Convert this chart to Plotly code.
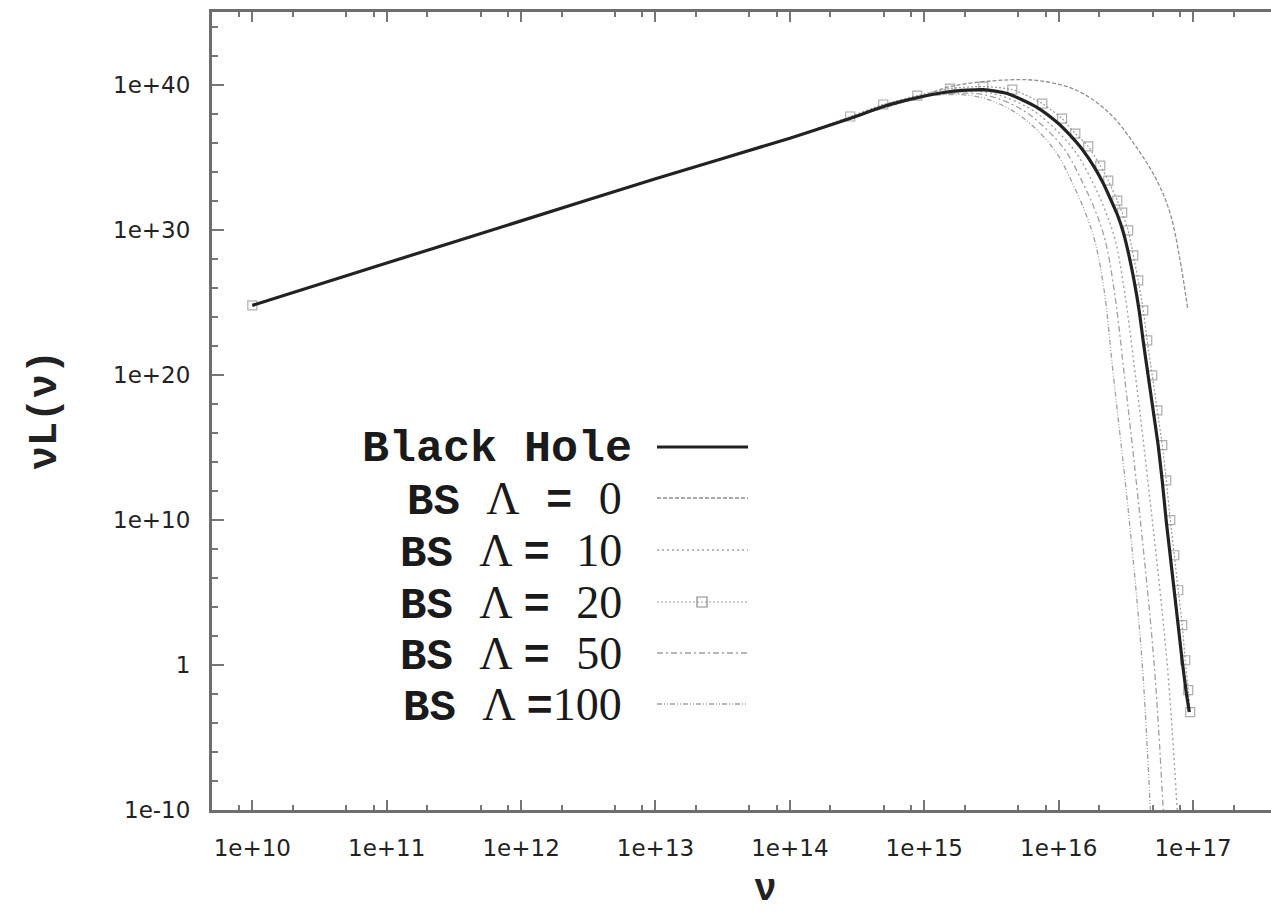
import plotly.graph_objects as go

# ---- spectra: nu [Hz] and nu*L(nu) ----
nu_bh = [1e10, 1e11, 1e12, 1e13, 1e14, 2.8e14, 4.95e14, 8.9e14, 1.56e15, 2.75e15, 4.15e15, 6.93e15,
         9.77e15, 1.22e16, 1.52e16, 1.87e16, 2.15e16, 2.42e16, 2.73e16, 3.03e16, 3.35e16, 3.65e16,
         3.98e16, 4.26e16, 4.64e16, 5.06e16, 5.51e16, 5.90e16, 6.32e16, 6.77e16, 7.25e16, 7.76e16,
         8.31e16, 8.9e16, 9.38e16]
nuL_bh = [6.0e24, 5.0e27, 4.0e30, 3.2e33, 2.0e36, 4.6e37, 3.05e38, 1.26e39, 3.3e39, 4.5e39, 2.4e39, 2.6e38,
          2.4e37, 3.1e36, 2.85e35, 1.6e34, 1.5e33, 1.4e32, 1.1e31, 6.4e29, 1.4e28, 2.7e26,
          2.3e24, 2.0e22, 7.8e19, 3.0e17, 1.2e15, 4.6e12, 8.0e9, 3.1e7, 1.2e5, 470.0,
          1.8, 0.013, 5.6e-4]

nu_bs0 = [1e10, 1e11, 1e12, 1e13, 1e14, 2.8e14, 8.9e14, 1.56e15, 3.49e15, 6.93e15, 1.37e16,
          2.4e16, 3.8e16, 5.37e16, 6.76e16, 7.94e16, 9.12e16]
nuL_bs0 = [6.0e24, 5.0e27, 4.0e30, 3.2e33, 2.0e36, 4.6e37, 1.26e39, 7.2e39, 1.9e40, 1.9e40, 3.9e39,
           1.0e38, 4.6e35, 2.5e33, 1.3e31, 1.2e28, 3.7e24]

nu_bs10 = [1e10, 1e11, 1e12, 1e13, 1e14, 2.8e14, 8.9e14, 1.56e15, 2.61e15, 3.67e15, 5.94e15, 8.37e15,
           1.31e16, 1.81e16, 2.22e16, 2.64e16, 3.08e16, 3.72e16, 4.97e16, 6.43e16, 7.62e16]
nuL_bs10 = [6.0e24, 5.0e27, 4.0e30, 3.2e33, 2.0e36, 4.6e37, 1.26e39, 2.8e39, 3.3e39, 1.75e39, 2.6e38, 2.4e37,
            2.85e35, 1.5e33, 2.1e31, 1.8e29, 6.5e25, 1e20, 1e10, 1.0, 1e-10]

nu_bs20 = [1e10, 1e11, 1e12, 1e13, 1e14, 2.81e14, 4.95e14, 8.87e14, 1.56e15, 2.75e15, 4.52e15, 7.55e15,
           1.06e16, 1.33e16, 1.66e16, 2.04e16, 2.34e16, 2.73e16, 2.97e16, 3.29e16, 3.59e16, 3.91e16,
           4.26e16, 4.56e16, 4.97e16, 5.42e16, 5.90e16, 6.32e16, 6.77e16, 7.25e16, 7.76e16, 8.31e16,
           8.75e16, 9.21e16, 9.53e16]
nuL_bs20 = [6.0e24, 5.0e27, 4.0e30, 3.2e33, 2.0e36, 6.3e37, 4.2e38, 1.75e39, 5.3e39, 7.3e39, 4.5e39, 4.9e38,
            4.5e37, 4.2e36, 5.4e35, 2.6e34, 2.4e33, 1.0e32, 1.5e31, 8.8e29, 1.7e28, 3.2e26,
            2.7e24, 2.3e22, 9.1e19, 3.5e17, 1.4e15, 5.3e12, 9.4e9, 3.6e7, 1.4e5, 551.0,
            2.1, 0.018, 5.6e-4]

nu_bs50 = [1e10, 1e11, 1e12, 1e13, 1e14, 2.8e14, 8.9e14, 1.56e15, 2.39e15, 3.37e15, 5.18e15, 7.29e15,
           1.12e16, 1.52e16, 1.87e16, 2.22e16, 2.59e16, 3.08e16, 4.05e16, 5.14e16, 6.0e16]
nuL_bs50 = [6.0e24, 5.0e27, 4.0e30, 3.2e33, 2.0e36, 4.6e37, 1.26e39, 2.4e39, 2.4e39, 1.27e39, 2.2e38, 2.1e37,
            2.85e35, 1.5e33, 2.1e31, 1.8e29, 6.5e25, 1e20, 1e10, 1.0, 1e-10]

nu_bs100 = [1e10, 1e11, 1e12, 1e13, 1e14, 2.8e14, 8.9e14, 1.56e15, 2.2e15, 2.99e15, 4.52e15, 6.37e15,
            9.6e15, 1.29e16, 1.58e16, 1.87e16, 2.18e16, 2.55e16, 3.35e16, 4.19e16, 4.81e16]
nuL_bs100 = [6.0e24, 5.0e27, 4.0e30, 3.2e33, 2.0e36, 4.6e37, 1.26e39, 2.05e39, 1.75e39, 9.3e38, 1.6e38, 1.5e37,
             2.1e35, 1.1e33, 1.5e31, 1.3e29, 6.5e25, 1e20, 1e10, 1.0, 1e-10]

# ---- axis ticks ----
x_tickvals = [1e10, 1e11, 1e12, 1e13, 1e14, 1e15, 1e16, 1e17]
x_ticktext = ["1e+10", "1e+11", "1e+12", "1e+13", "1e+14", "1e+15", "1e+16", "1e+17"]
x_minor = [m * 10.0 ** e for e in range(9, 18) for m in (2, 5, 8)]
y_tickvals = [1e-10, 1, 1e10, 1e20, 1e30, 1e40]
y_ticktext = ["1e-10", "1", "1e+10", "1e+20", "1e+30", "1e+40"]
y_minor = [10.0 ** e for e in range(-8, 46, 2) if e % 10 != 0]

legend_labels = ["Black Hole", "BS Λ = 0", "BS Λ= 10", "BS Λ= 20", "BS Λ= 50", "BS Λ=100"]

W, H = 1271, 914
L_PX, R_PX, T_PX, B_PX = 212, 1271, 12, 810


def px_x(px):
    return (px - L_PX) / (R_PX - L_PX)


def px_y(py):
    return (B_PX - py) / (B_PX - T_PX)


styles = {
    "bs0": dict(color="#8f8f8f", width=1.3, dash="4px,2px"),
    "bs10": dict(color="#a0a0a0", width=1.4, dash="2px,3px"),
    "bs20": dict(color="#9a9a9a", width=1.2, dash="2px,2px"),
    "bs50": dict(color="#a0a0a0", width=1.3, dash="6px,3px,2px,3px"),
    "bs100": dict(color="#a0a0a0", width=1.3, dash="5px,2px,1px,2px,1px,2px"),
    "bh": dict(color="#222222", width=3.2, dash="solid"),
}

fig = go.Figure()

for nu, nuL, key in [(nu_bs0, nuL_bs0, "bs0"), (nu_bs10, nuL_bs10, "bs10"),
                     (nu_bs50, nuL_bs50, "bs50"), (nu_bs100, nuL_bs100, "bs100")]:
    fig.add_trace(go.Scatter(x=nu, y=nuL, mode="lines", line=dict(shape="spline", smoothing=1.0, **styles[key]),
                             showlegend=False, hoverinfo="skip"))

# Lambda = 20 drawn with open squares (no marks along the straight power-law part)
sq_sizes = [9 if (n < 1.5e10 or n > 2e14) else 0 for n in nu_bs20]
fig.add_trace(go.Scatter(x=nu_bs20, y=nuL_bs20, mode="lines+markers",
                         line=dict(shape="spline", smoothing=0.6, **styles["bs20"]),
                         marker=dict(symbol="square-open", size=sq_sizes, color="#8a8a8a", line=dict(width=1.2)),
                         showlegend=False, hoverinfo="skip"))

fig.add_trace(go.Scatter(x=nu_bh, y=nuL_bh, mode="lines", line=dict(shape="spline", smoothing=0.6, **styles["bh"]),
                         showlegend=False, hoverinfo="skip"))

axis_line = dict(showline=True, linecolor="#6e6e6e", linewidth=3, showgrid=False, zeroline=False,
                 ticks="inside", tickcolor="#777777", tickwidth=1.5)

fig.update_xaxes(type="log", range=[9.7, 17.58], tickvals=x_tickvals, ticktext=x_ticktext,
                 ticklen=10, mirror="allticks", ticklabelstandoff=15,
                 tickfont=dict(family="DejaVu Sans", size=23, color="#222222"),
                 minor=dict(tickvals=x_minor, ticks="inside", ticklen=5, tickcolor="#777777", tickwidth=1.5),
                 **axis_line)
fig.update_yaxes(type="log", range=[-10, 45], tickvals=y_tickvals, ticktext=y_ticktext,
                 ticklen=12, mirror=False, ticklabelstandoff=14,
                 tickfont=dict(family="DejaVu Sans", size=23, color="#222222"),
                 minor=dict(tickvals=y_minor, ticks="inside", ticklen=6, tickcolor="#777777", tickwidth=1.5),
                 **axis_line)

annotations = []
shapes = []

# axis titles
annotations.append(dict(text="<b>νL(ν)</b>", x=px_x(45), y=px_y(410), xref="paper", yref="paper",
                        textangle=-90, showarrow=False, xanchor="center", yanchor="middle",
                        font=dict(family="Liberation Mono", size=40, color="#222222")))
annotations.append(dict(text="<b>ν</b>", x=px_x(765), y=px_y(913), xref="paper", yref="paper",
                        showarrow=False, xanchor="center", yanchor="bottom",
                        font=dict(family="Liberation Mono", size=38, color="#222222")))

# key: label on the left, line sample on the right
row_y = [447, 498, 550, 602, 653, 704]
label_right = [634, 624, 624, 624, 624, 624]
sample_keys = ["bh", "bs0", "bs10", "bs20", "bs50", "bs100"]
serif = "font-family:Liberation Serif;font-weight:normal;font-size:46px"
small_gap = '<span style="font-size:18px"> </span>'
for i, lab in enumerate(legend_labels):
    if lab.startswith("BS"):
        rest = lab[3:]
        pieces = []
        for c in rest:
            if c.isdigit():
                pieces.append(f'<span style="{serif}">{c}</span>')
            elif c == "Λ":
                pieces.append(f'<span style="{serif}">{c}</span>')
                if not rest.startswith("Λ ="):
                    pieces.append(small_gap)
            else:
                pieces.append(c)
        txt = "<b>BS " + "".join(pieces) + "</b>"
    else:
        txt = "<b>" + lab + "</b>"
    annotations.append(dict(text=txt, x=px_x(label_right[i]), y=px_y(row_y[i] + 2), xref="paper", yref="paper",
                            showarrow=False, xanchor="right", yanchor="middle",
                            font=dict(family="Liberation Mono", size=45 if i == 0 else 44, color="#1a1a1a")))
    st = styles[sample_keys[i]]
    shapes.append(dict(type="line", xref="paper", yref="paper", x0=px_x(657), x1=px_x(748),
                       y0=px_y(row_y[i]), y1=px_y(row_y[i]),
                       line=dict(color=st["color"], width=st["width"], dash=st["dash"])))
shapes.append(dict(type="rect", xref="paper", yref="paper", x0=px_x(697), x1=px_x(707),
                   y0=px_y(row_y[3] + 5), y1=px_y(row_y[3] - 5), line=dict(color="#888888", width=1.2)))

fig.update_layout(width=W, height=H, margin=dict(l=L_PX, r=W - R_PX, t=T_PX, b=H - B_PX),
                  plot_bgcolor="white", paper_bgcolor="white", showlegend=False,
                  annotations=annotations, shapes=shapes)

fig.write_html("out.html")
